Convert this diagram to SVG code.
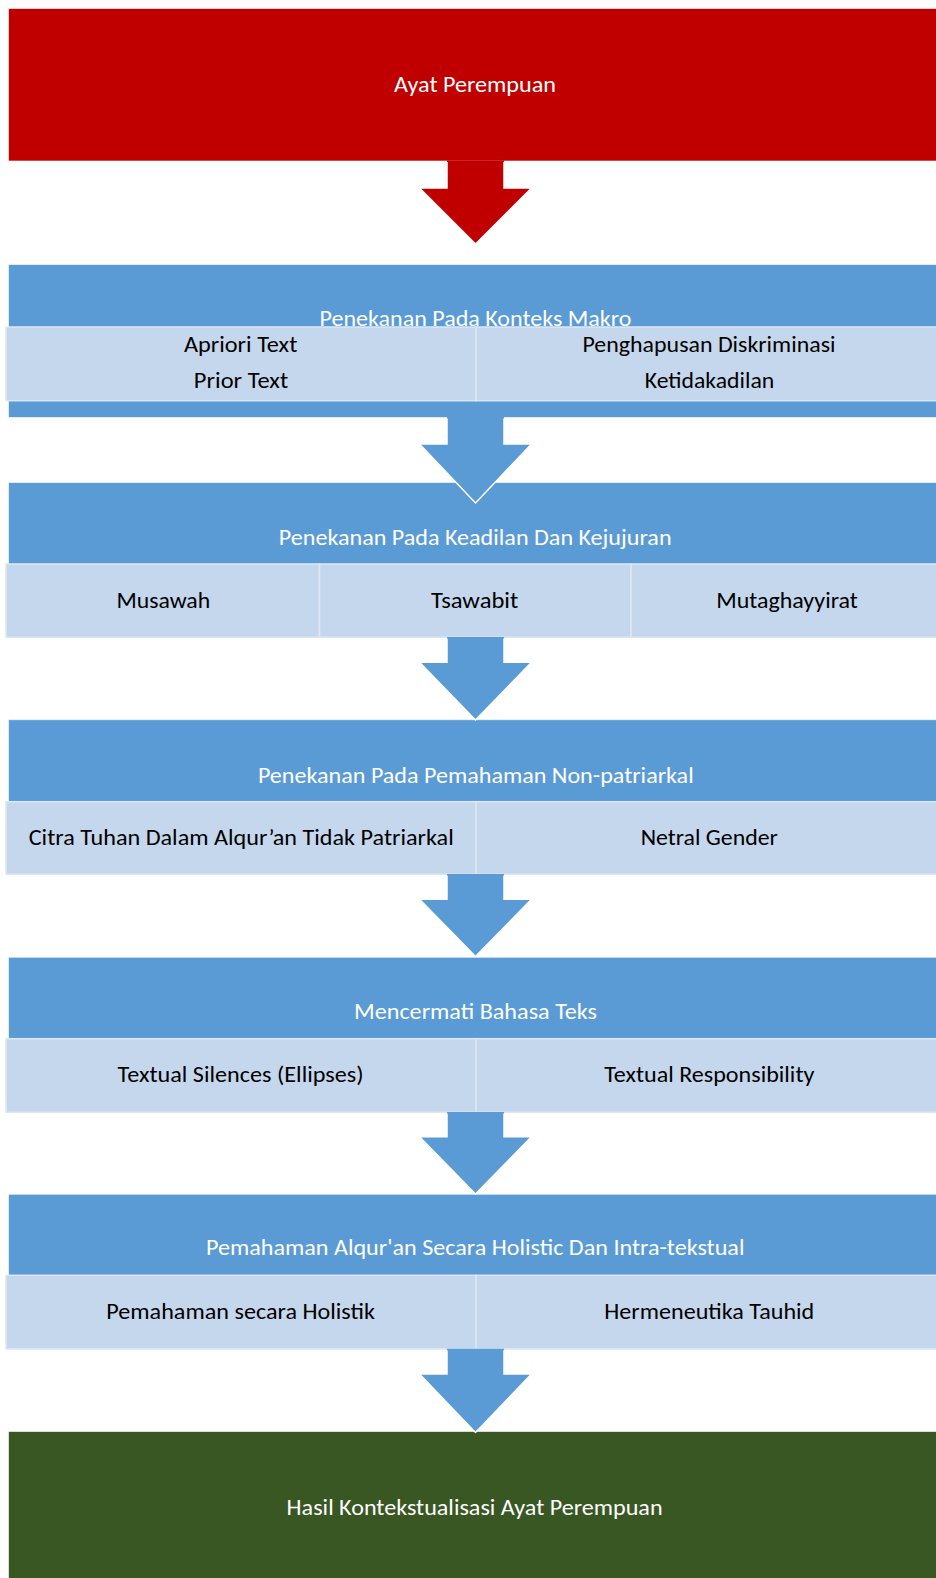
<svg xmlns="http://www.w3.org/2000/svg" width="936" height="1578" viewBox="0 0 936 1578">
<style>
.red{fill:#C00000;stroke:#ffffff;stroke-opacity:.6;stroke-width:1}
.blue{fill:#5B9BD5;stroke:#ffffff;stroke-opacity:.6;stroke-width:1}
.green{fill:#385723;stroke:#ffffff;stroke-opacity:.6;stroke-width:1}
.cell{fill:#C5D7EC;stroke:#DDE7F4;stroke-width:1.5}
.fill-red{fill:#C00000;stroke:none}
.fill-blue{fill:#5B9BD5;stroke:none}
.edge{fill:none;stroke:#ffffff;stroke-width:1.5;stroke-linejoin:miter}
text{font-family:Carlito,Lato,"Liberation Sans",sans-serif;font-size:22px;text-anchor:middle}
.t{fill:#ffffff}
.c{fill:#000000}
</style>
<g id="node-ayat">
<rect class="red" x="8.5" y="8.5" width="940" height="152.5"/>
<text class="t" x="475" y="92" textLength="162" lengthAdjust="spacingAndGlyphs">Ayat Perempuan</text>
</g>
<g id="node-makro">
<rect class="blue" x="8.5" y="264.5" width="940" height="153"/>
<text class="t" x="475.5" y="325.5" textLength="312" lengthAdjust="spacingAndGlyphs">Penekanan Pada Konteks Makro</text>
<g id="cell-apriori">
<rect class="cell" x="6" y="327" width="470" height="73.7"/>
<text class="c" x="240.6" y="351.7" textLength="113.4" lengthAdjust="spacingAndGlyphs">Apriori Text</text>
<text class="c" x="241" y="388.3" textLength="94.3" lengthAdjust="spacingAndGlyphs">Prior Text</text>
</g>
<g id="cell-penghapusan">
<rect class="cell" x="476" y="327" width="470" height="73.7"/>
<text class="c" x="709" y="351.7" textLength="253" lengthAdjust="spacingAndGlyphs">Penghapusan Diskriminasi</text>
<text class="c" x="709.5" y="388.3" textLength="129.5" lengthAdjust="spacingAndGlyphs">Ketidakadilan</text>
</g>
</g>
<g id="node-keadilan">
<rect class="blue" x="8.5" y="482.5" width="940" height="82"/>
<text class="t" x="475.2" y="545" textLength="392.8" lengthAdjust="spacingAndGlyphs">Penekanan Pada Keadilan Dan Kejujuran</text>
<g id="cell-musawah">
<rect class="cell" x="6" y="564" width="313.5" height="73.3"/>
<text class="c" x="163.3" y="607.7" textLength="93.7" lengthAdjust="spacingAndGlyphs">Musawah</text>
</g>
<g id="cell-tsawabit">
<rect class="cell" x="319.5" y="564" width="311.5" height="73.3"/>
<text class="c" x="474.6" y="607.7" textLength="87.2" lengthAdjust="spacingAndGlyphs">Tsawabit</text>
</g>
<g id="cell-mutaghayyirat">
<rect class="cell" x="631" y="564" width="315" height="73.3"/>
<text class="c" x="787" y="607.7" textLength="141.5" lengthAdjust="spacingAndGlyphs">Mutaghayyirat</text>
</g>
</g>
<g id="node-nonpatriarkal">
<rect class="blue" x="8.5" y="719.7" width="940" height="82"/>
<text class="t" x="475.8" y="782.7" textLength="435.8" lengthAdjust="spacingAndGlyphs">Penekanan Pada Pemahaman Non-patriarkal</text>
<g id="cell-citra">
<rect class="cell" x="6" y="801.7" width="470" height="72.6"/>
<text class="c" x="241.2" y="845" textLength="425" lengthAdjust="spacingAndGlyphs">Citra Tuhan Dalam Alqur’an Tidak Patriarkal</text>
</g>
<g id="cell-netral">
<rect class="cell" x="476" y="801.7" width="470" height="72.6"/>
<text class="c" x="709.3" y="845" textLength="137.3" lengthAdjust="spacingAndGlyphs">Netral Gender</text>
</g>
</g>
<g id="node-bahasa">
<rect class="blue" x="8.5" y="957.3" width="940" height="82"/>
<text class="t" x="475.5" y="1018.8" textLength="243" lengthAdjust="spacingAndGlyphs">Mencermati Bahasa Teks</text>
<g id="cell-silences">
<rect class="cell" x="6" y="1038.7" width="470" height="73.6"/>
<text class="c" x="240.6" y="1082.3" textLength="246" lengthAdjust="spacingAndGlyphs">Textual Silences (Ellipses)</text>
</g>
<g id="cell-responsibility">
<rect class="cell" x="476" y="1038.7" width="470" height="73.6"/>
<text class="c" x="709.3" y="1082.3" textLength="210.1" lengthAdjust="spacingAndGlyphs">Textual Responsibility</text>
</g>
</g>
<g id="node-holistic">
<rect class="blue" x="8.5" y="1194.3" width="940" height="82"/>
<text class="t" x="475.2" y="1255.3" textLength="538.5" lengthAdjust="spacingAndGlyphs">Pemahaman Alqur'an Secara Holistic Dan Intra-tekstual</text>
<g id="cell-holistik">
<rect class="cell" x="6" y="1275.3" width="470" height="73.7"/>
<text class="c" x="240.6" y="1318.5" textLength="268.7" lengthAdjust="spacingAndGlyphs">Pemahaman secara Holistik</text>
</g>
<g id="cell-tauhid">
<rect class="cell" x="476" y="1275.3" width="470" height="73.7"/>
<text class="c" x="709.3" y="1318.5" textLength="210" lengthAdjust="spacingAndGlyphs">Hermeneutika Tauhid</text>
</g>
</g>
<g id="node-hasil">
<rect class="green" x="8.5" y="1431.5" width="940" height="160"/>
<text class="t" x="474.6" y="1515" textLength="376" lengthAdjust="spacingAndGlyphs">Hasil Kontekstualisasi Ayat Perempuan</text>
</g>
<g id="connectors">
<g id="arrow-1">
<path class="fill-red" d="M447,160.5 L504,160.5 L504,188 L531.5,188 L475.5,244 L419.5,188 L447,188 Z"/>
<path class="edge" d="M447,162 L447,188 L419.5,188 L475.5,244 L531.5,188 L504,188 L504,162"/>
</g>
<g id="arrow-2">
<path class="fill-blue" d="M447,417 L504,417 L504,444 L531.5,444 L475.5,503 L419.5,444 L447,444 Z"/>
<path class="edge" d="M447,418.5 L447,444 L419.5,444 L475.5,503 L531.5,444 L504,444 L504,418.5"/>
</g>
<g id="arrow-3">
<path class="fill-blue" d="M447,637 L504,637 L504,662.3 L531.5,662.3 L475.5,720 L419.5,662.3 L447,662.3 Z"/>
<path class="edge" d="M447,638.5 L447,662.3 L419.5,662.3 L475.5,720 L531.5,662.3 L504,662.3 L504,638.5"/>
</g>
<g id="arrow-4">
<path class="fill-blue" d="M447,874 L504,874 L504,899.3 L531.5,899.3 L475.5,956.5 L419.5,899.3 L447,899.3 Z"/>
<path class="edge" d="M447,875.5 L447,899.3 L419.5,899.3 L475.5,956.5 L531.5,899.3 L504,899.3 L504,875.5"/>
</g>
<g id="arrow-5">
<path class="fill-blue" d="M447,1112 L504,1112 L504,1136.7 L531.5,1136.7 L475.5,1194 L419.5,1136.7 L447,1136.7 Z"/>
<path class="edge" d="M447,1113.5 L447,1136.7 L419.5,1136.7 L475.5,1194 L531.5,1136.7 L504,1136.7 L504,1113.5"/>
</g>
<g id="arrow-6">
<path class="fill-blue" d="M447,1348.8 L504,1348.8 L504,1374 L531.5,1374 L475.5,1432.5 L419.5,1374 L447,1374 Z"/>
<path class="edge" d="M447,1350.3 L447,1374 L419.5,1374 L475.5,1432.5 L531.5,1374 L504,1374 L504,1350.3"/>
</g>
</g>
</svg>
